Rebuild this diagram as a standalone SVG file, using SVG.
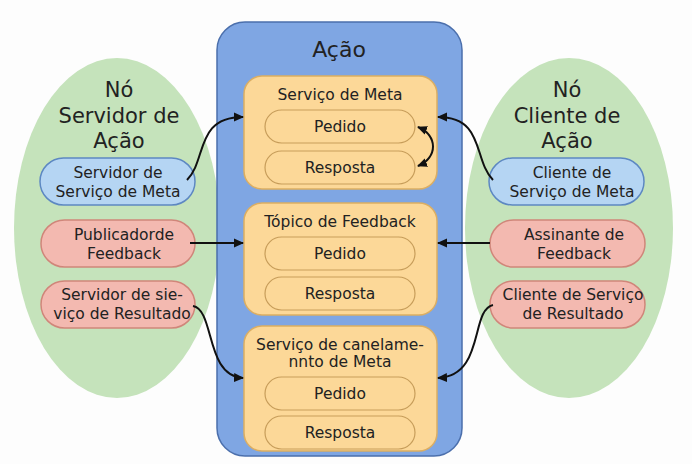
<svg xmlns="http://www.w3.org/2000/svg" width="692" height="464" viewBox="0 0 692 464">
<defs>
<marker id="ah" viewBox="0 0 10 10" refX="9" refY="5" markerWidth="10" markerHeight="10" markerUnits="userSpaceOnUse" orient="auto-start-reverse">
<path d="M0,0.5 L10,5 L0,9.5 Z" fill="#111"/>
</marker>
</defs>
<style>
text{font-family:"DejaVu Sans","Liberation Sans",sans-serif;fill:#222;text-anchor:middle}
.t{font-size:21px}
.s{font-size:15.5px}
.node{fill:#c5e3bb}
.cont{fill:#7fa6e3;stroke:#4b6fac;stroke-width:1.5}
.box{fill:#fcd898;stroke:#dcae62;stroke-width:1.5}
.inner{fill:#fcd898;stroke:#c79d5a;stroke-width:1.2}
.blue{fill:#b5d5f3;stroke:#5d88c2;stroke-width:1.5}
.pink{fill:#f3b9b0;stroke:#d0867a;stroke-width:1.5}
.c{fill:none;stroke:#111;stroke-width:2;marker-end:url(#ah)}
</style>
<rect width="692" height="464" fill="#fdfdfd"/>
<g id="servidor-node">
<ellipse class="node" cx="117" cy="228" rx="103" ry="170"/>
<text class="t" x="119" y="97">Nó</text>
<text class="t" x="119" y="123">Servidor de</text>
<text class="t" x="119" y="148">Ação</text>
</g>
<g id="cliente-node">
<ellipse class="node" cx="569" cy="228" rx="104" ry="170"/>
<text class="t" x="567" y="97">Nó</text>
<text class="t" x="567" y="123">Cliente de</text>
<text class="t" x="567" y="148">Ação</text>
</g>
<g id="acao">
<rect class="cont" x="217" y="22" width="245" height="434" rx="28"/>
<text x="339" y="57" style="font-size:22px">Ação</text>
</g>
<g id="servico-meta">
<rect class="box" x="244" y="76" width="193" height="113" rx="18"/>
<text class="s" x="340" y="100">Serviço de Meta</text>
<rect class="inner" x="265" y="110" width="150" height="33" rx="16.5"/>
<text class="s" x="340" y="132">Pedido</text>
<rect class="inner" x="265" y="151" width="150" height="33" rx="16.5"/>
<text class="s" x="340" y="173">Resposta</text>
</g>
<g id="topico-feedback">
<rect class="box" x="244" y="203" width="193" height="112" rx="18"/>
<text class="s" x="340" y="227">Tópico de Feedback</text>
<rect class="inner" x="265" y="237" width="150" height="33" rx="16.5"/>
<text class="s" x="340" y="259">Pedido</text>
<rect class="inner" x="265" y="277" width="150" height="33" rx="16.5"/>
<text class="s" x="340" y="299">Resposta</text>
</g>
<g id="servico-cancelamento">
<rect class="box" x="244" y="326" width="193" height="125" rx="18"/>
<text class="s" x="340" y="350">Serviço de canelame-</text>
<text class="s" x="340" y="367">nnto de Meta</text>
<rect class="inner" x="265" y="377" width="150" height="33" rx="16.5"/>
<text class="s" x="340" y="399">Pedido</text>
<rect class="inner" x="265" y="416" width="150" height="33" rx="16.5"/>
<text class="s" x="340" y="438">Resposta</text>
</g>
<g id="servidor-servico-meta">
<rect class="blue" x="40" y="158" width="155" height="47" rx="23.5"/>
<text class="s" x="118" y="178">Servidor de</text>
<text class="s" x="118" y="197">Serviço de Meta</text>
</g>
<g id="cliente-servico-meta">
<rect class="blue" x="489" y="158" width="155" height="47" rx="23.5"/>
<text class="s" x="572" y="178">Cliente de</text>
<text class="s" x="572" y="197">Serviço de Meta</text>
</g>
<g id="publicador-feedback">
<rect class="pink" x="41" y="220" width="154" height="47" rx="23.5"/>
<text class="s" x="124" y="240">Publicadorde</text>
<text class="s" x="124" y="259">Feedback</text>
</g>
<g id="assinante-feedback">
<rect class="pink" x="490" y="220" width="155" height="47" rx="23.5"/>
<text class="s" x="574" y="240">Assinante de</text>
<text class="s" x="574" y="259">Feedback</text>
</g>
<g id="servidor-resultado">
<rect class="pink" x="41" y="281" width="154" height="47" rx="23.5"/>
<text class="s" x="122" y="300">Servidor de sie-</text>
<text class="s" x="122" y="319">viço de Resultado</text>
</g>
<g id="cliente-resultado">
<rect class="pink" x="490" y="281" width="155" height="47" rx="23.5"/>
<text class="s" x="573" y="300">Cliente de Serviço</text>
<text class="s" x="573" y="319">de Resultado</text>
</g>
<g id="connectors">
<path class="c" d="M187,180 C207,160 195,117 243,117"/>
<path class="c" d="M493,180 C473,160 485,117 438,117"/>
<path class="c" d="M418,127 C438,135 438,158 418,166" style="marker-start:url(#ah)"/>
<path class="c" d="M190,243 L243,243"/>
<path class="c" d="M490,243 L438,243"/>
<path class="c" d="M193,306 C215,310 205,376 243,378"/>
<path class="c" d="M493,305 C470,310 485,376 438,378"/>
</g>
</svg>
